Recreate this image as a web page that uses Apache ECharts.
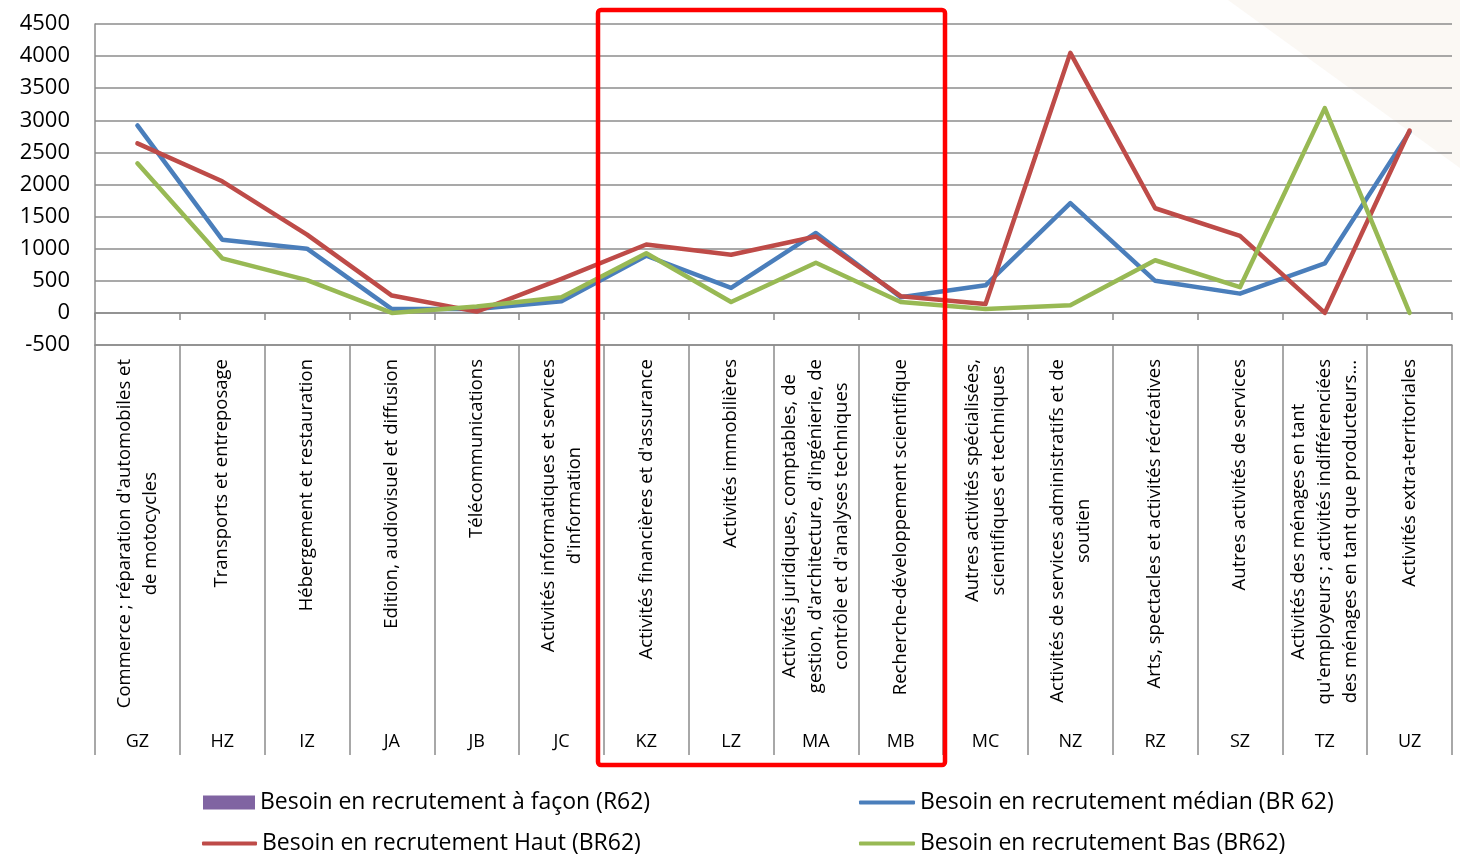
<!DOCTYPE html>
<html>
<head>
<meta charset="utf-8">
<title>Besoin en recrutement par secteur</title>
<script src="https://cdn.jsdelivr.net/npm/echarts@6/dist/echarts.min.js"></script>
<style>
  html, body { margin: 0; padding: 0; background: #ffffff; }
  #chart { width: 1460px; height: 865px; }
</style>
</head>
<body>
<div id="chart"></div>
<script>
// Sector codes (NAF A38) and their labels
const codes = ['GZ', 'HZ', 'IZ', 'JA', 'JB', 'JC', 'KZ', 'LZ', 'MA', 'MB', 'MC', 'NZ', 'RZ', 'SZ', 'TZ', 'UZ'];
const sectorNames = [
  "Commerce ; réparation d'automobiles et\nde motocycles",
  "Transports et entreposage",
  "Hébergement et restauration",
  "Edition, audiovisuel et diffusion",
  "Télécommunications",
  "Activités informatiques et services\nd'information",
  "Activités financières et d'assurance",
  "Activités immobilières",
  "Activités juridiques, comptables, de\ngestion, d'architecture, d'ingénierie, de\ncontrôle et d'analyses techniques",
  "Recherche-développement scientifique",
  "Autres activités spécialisées,\nscientifiques et techniques",
  "Activités de services administratifs et de\nsoutien",
  "Arts, spectacles et activités récréatives",
  "Autres activités de services",
  "Activités des ménages en tant\nqu'employeurs ; activités indifférenciées\ndes ménages en tant que producteurs...",
  "Activités extra-territoriales"
];

// Series names
const nameFacon = 'Besoin en recrutement à façon (R62)';
const nameMedian = 'Besoin en recrutement médian (BR 62)';
const nameHaut = 'Besoin en recrutement Haut (BR62)';
const nameBas = 'Besoin en recrutement Bas (BR62)';

// Series values
const facon = [];
const median = [2920, 1140, 1000, 60, 60, 180, 890, 390, 1245, 245, 430, 1710, 500, 300, 770, 2820];
const haut = [2640, 2050, 1220, 270, 20, 530, 1065, 905, 1190, 260, 140, 4050, 1630, 1200, 0, 2840];
const bas = [2330, 850, 510, 0, 100, 245, 930, 170, 780, 170, 60, 120, 820, 400, 3190, 0];

// Value axis
const yMin = -500;
const yMax = 4500;
const yStep = 500;

const FONT = '"Open Sans", "DejaVu Sans", sans-serif';
const GRAY = '#8c8c8c';
const COLORS = { facon: '#8064A2', median: '#4A7EBB', haut: '#BE4B48', bas: '#98B954' };

const chart = echarts.init(document.getElementById('chart'), null, { renderer: 'canvas' });

function lineSeries(name, data, color) {
  return {
    name: name,
    type: 'line',
    xAxisIndex: 0,
    yAxisIndex: 0,
    data: data,
    symbol: 'none',
    smooth: false,
    color: color,
    lineStyle: { color: color, width: 4.5, cap: 'round', join: 'round' },
    z: 3
  };
}

function legendItem(name, left, top, icon, w, h) {
  return {
    data: [name],
    left: left,
    top: top,
    padding: 0,
    orient: 'horizontal',
    icon: icon,
    itemWidth: w,
    itemHeight: h,
    itemGap: 0,
    selectedMode: false,
    textStyle: { fontFamily: FONT, fontSize: 23, color: '#000' }
  };
}

const option = {
  backgroundColor: '#ffffff',
  animation: false,
  grid: { left: 95, right: 8, top: 24, bottom: 520, containLabel: false },
  graphic: [
    {
      type: 'polygon',
      z: -10,
      silent: true,
      shape: { points: [[1228, 0], [1460, 0], [1460, 168]] },
      style: { fill: '#fbf8f4' }
    },
    {
      type: 'rect',
      z: 100,
      silent: true,
      shape: { x: 598, y: 10, width: 347, height: 755, r: 3 },
      style: { fill: 'none', stroke: '#ff0000', lineWidth: 4.5 }
    }
  ],
  legend: [
    legendItem(nameFacon, 203, 791, 'rect', 52, 14),
    legendItem(nameHaut, 202, 832, 'roundRect', 55, 4),
    legendItem(nameMedian, 859, 791, 'roundRect', 56, 4),
    legendItem(nameBas, 859, 832, 'roundRect', 56, 4)
  ],
  xAxis: [
    {
      // axis crossing at zero, with tick marks between categories
      type: 'category',
      data: codes,
      boundaryGap: true,
      position: 'bottom',
      axisLine: { show: true, onZero: true, lineStyle: { color: GRAY, width: 1.5 } },
      axisTick: { show: true, inside: false, length: 7, interval: 0, lineStyle: { color: GRAY, width: 1.5 } },
      axisLabel: { show: false },
      splitLine: { show: false }
    },
    {
      // sector names, separated by long tick lines
      type: 'category',
      data: sectorNames,
      boundaryGap: true,
      position: 'bottom',
      axisLine: { show: true, onZero: false, lineStyle: { color: GRAY, width: 1.5 } },
      axisTick: { show: true, inside: false, length: 410, interval: 0, lineStyle: { color: GRAY, width: 1.5 } },
      axisLabel: {
        show: true,
        interval: 0,
        rotate: 90,
        margin: 14,
        hideOverlap: false,
        color: '#000',
        fontFamily: FONT,
        fontSize: 18.5,
        lineHeight: 26,
        formatter: function (v) {
          return v.split('\n').map(function (l) { return '{c|' + l + '}'; }).join('\n');
        },
        rich: {
          c: { align: 'center', fontFamily: FONT, fontSize: 18.5, lineHeight: 26, color: '#000' }
        }
      },
      splitLine: { show: false }
    },
    {
      // sector codes
      type: 'category',
      data: codes,
      boundaryGap: true,
      position: 'bottom',
      axisLine: { show: false, onZero: false },
      axisTick: { show: false },
      axisLabel: {
        show: true,
        interval: 0,
        margin: 388,
        color: '#000',
        fontFamily: FONT,
        fontSize: 18
      },
      splitLine: { show: false }
    }
  ],
  yAxis: {
    type: 'value',
    min: yMin,
    max: yMax,
    interval: yStep,
    axisLine: { show: true, lineStyle: { color: GRAY, width: 1.5 } },
    axisTick: { show: false },
    axisLabel: {
      color: '#000',
      fontFamily: FONT,
      fontSize: 22,
      margin: 25,
      formatter: function (v) { return String(v); }
    },
    splitLine: { show: true, lineStyle: { color: GRAY, width: 1.5 } }
  },
  series: [
    {
      name: nameFacon,
      type: 'bar',
      xAxisIndex: 0,
      yAxisIndex: 0,
      data: facon,
      color: COLORS.facon,
      itemStyle: { color: COLORS.facon }
    },
    lineSeries(nameMedian, median, COLORS.median),
    lineSeries(nameHaut, haut, COLORS.haut),
    lineSeries(nameBas, bas, COLORS.bas)
  ]
};

chart.setOption(option);
</script>
</body>
</html>
